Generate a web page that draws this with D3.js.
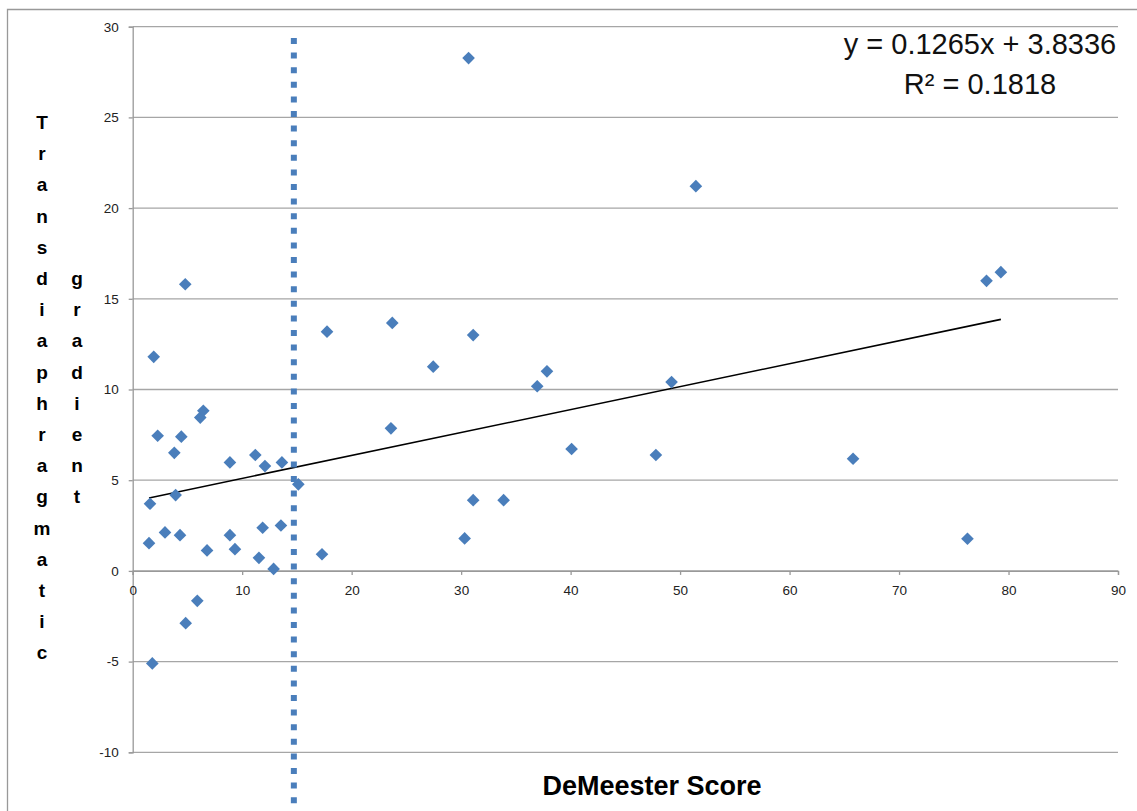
<!DOCTYPE html>
<html>
<head>
<meta charset="utf-8">
<script src="https://cdn.jsdelivr.net/npm/d3@7"></script>
<style>
  body { margin: 0; background: #fff; }
  svg { display: block; }
  .axis text { font-family: "Liberation Sans", Arial, sans-serif; font-size: 13.5px; fill: #222; }
  .axis path, .axis line { stroke: #999; stroke-width: 1.3; }
  .grid line { stroke: #a6a6a6; stroke-width: 1.3; }
</style>
</head>
<body>
<script>

// DeMeester score (x) vs transdiaphragmatic gradient (y)
var demeester = [1.58, 1.49, 1.92, 2.28, 1.79, 2.95, 3.80, 3.92, 4.44, 4.32, 4.80, 4.84,
  5.90, 6.17, 6.45, 6.79, 8.88, 8.88, 9.34, 11.20, 11.53, 11.87, 12.08, 12.87, 13.54, 13.63,
  15.13, 17.29, 17.75, 23.71, 23.59, 27.45, 30.68, 30.32, 31.10, 31.10, 33.88, 36.95, 37.84,
  40.09, 47.79, 49.22, 51.44, 65.80, 76.25, 77.99, 79.30];
var gradient = [3.70, 1.53, 11.80, 7.45, -5.10, 2.12, 6.51, 4.18, 7.40, 1.97, 15.80, -2.88,
  -1.65, 8.45, 8.83, 1.13, 5.98, 1.97, 1.20, 6.39, 0.72, 2.38, 5.78, 0.11, 2.50, 5.98,
  4.77, 0.92, 13.19, 13.67, 7.86, 11.26, 28.27, 1.79, 13.00, 3.90, 3.90, 10.18, 11.00,
  6.72, 6.39, 10.41, 21.21, 6.18, 1.77, 15.99, 16.47];

var xTicks = [0, 10, 20, 30, 40, 50, 60, 70, 80, 90];
var yTicks = [-10, -5, 0, 5, 10, 15, 20, 25, 30];

var slope = 0.1265, intercept = 3.8336;
var eqLines = ["y = 0.1265x + 3.8336", "R² = 0.1818"];
var cutoff = 14.72; // DeMeester upper normal limit

var yTitle1 = "Transdiaphragmatic", yTitle2 = "gradient";
var xTitle = "DeMeester Score";

var W = 1137, H = 811;
var svg = d3.select("body").append("svg").attr("width", W).attr("height", H);

// chart frame (only top and left edges fall inside the picture)
svg.append("path")
  .attr("d", "M7.5," + H + "V9.5H" + W)
  .attr("fill", "none").attr("stroke", "#999").attr("stroke-width", 1.3);

var x = d3.scaleLinear().domain([0, 90]).range([132.7, 1118]);
var y = d3.scaleLinear().domain([-10, 30]).range([752.3, 26.7]);

// horizontal gridlines
svg.append("g").attr("class", "grid")
  .selectAll("line").data(yTicks).enter().append("line")
  .attr("x1", x(0)).attr("x2", x(90))
  .attr("y1", function (d) { return y(d); })
  .attr("y2", function (d) { return y(d); });

var yAxis = d3.axisLeft(y).tickValues(yTicks).tickSize(4).tickPadding(10)
  .tickFormat(function (d) { return String(d); });
svg.append("g").attr("class", "axis")
  .attr("transform", "translate(" + x(0) + ",0)")
  .call(yAxis);

var xAxis = d3.axisBottom(x).tickValues(xTicks).tickSize(4).tickPadding(11).tickSizeOuter(4);
svg.append("g").attr("class", "axis")
  .attr("transform", "translate(0," + y(0) + ")")
  .call(xAxis);

// trendline
var xExt = d3.extent(demeester);
svg.append("line")
  .attr("x1", x(xExt[0])).attr("y1", y(slope * xExt[0] + intercept))
  .attr("x2", x(xExt[1])).attr("y2", y(slope * xExt[1] + intercept))
  .attr("stroke", "#000").attr("stroke-width", 1.6);

// points
var diamond = d3.symbol().type(d3.symbolSquare).size(80);
svg.append("g").selectAll("path")
  .data(d3.range(demeester.length)).enter().append("path")
  .attr("d", diamond)
  .attr("transform", function (i) {
    return "translate(" + x(demeester[i]) + "," + y(gradient[i]) + ") rotate(45)";
  })
  .attr("fill", "#4a7ebb");

// cutoff line
svg.append("line")
  .attr("x1", x(cutoff)).attr("x2", x(cutoff))
  .attr("y1", 38).attr("y2", H)
  .attr("stroke", "#4a7ebb").attr("stroke-width", 6)
  .attr("stroke-dasharray", "6,8.6");

// regression equation
svg.append("g").selectAll("text")
  .data(eqLines).enter().append("text")
  .attr("x", 980)
  .attr("y", function (d, i) { return 54 + i * 40; })
  .attr("text-anchor", "middle")
  .style("font-family", "'Liberation Sans', Arial, sans-serif")
  .style("font-size", "29px")
  .attr("fill", "#111")
  .text(function (d) { return d; });

// axis titles
svg.append("text")
  .attr("x", 652).attr("y", 795)
  .attr("text-anchor", "middle")
  .style("font-family", "'Liberation Sans', Arial, sans-serif")
  .style("font-size", "27px").style("font-weight", "bold")
  .text(xTitle);

function stacked(word, cx, startIdx) {
  svg.append("g").selectAll("text")
    .data(word.split("")).enter().append("text")
    .attr("x", cx)
    .attr("y", function (d, i) { return 129 + (i + startIdx) * 31.2; })
    .attr("text-anchor", "middle")
    .style("font-family", "'Liberation Sans', Arial, sans-serif")
    .style("font-size", "19px").style("font-weight", "bold")
    .text(function (d) { return d; });
}
stacked(yTitle1, 42, 0);
stacked(yTitle2, 77, 5);

</script>
</body>
</html>
